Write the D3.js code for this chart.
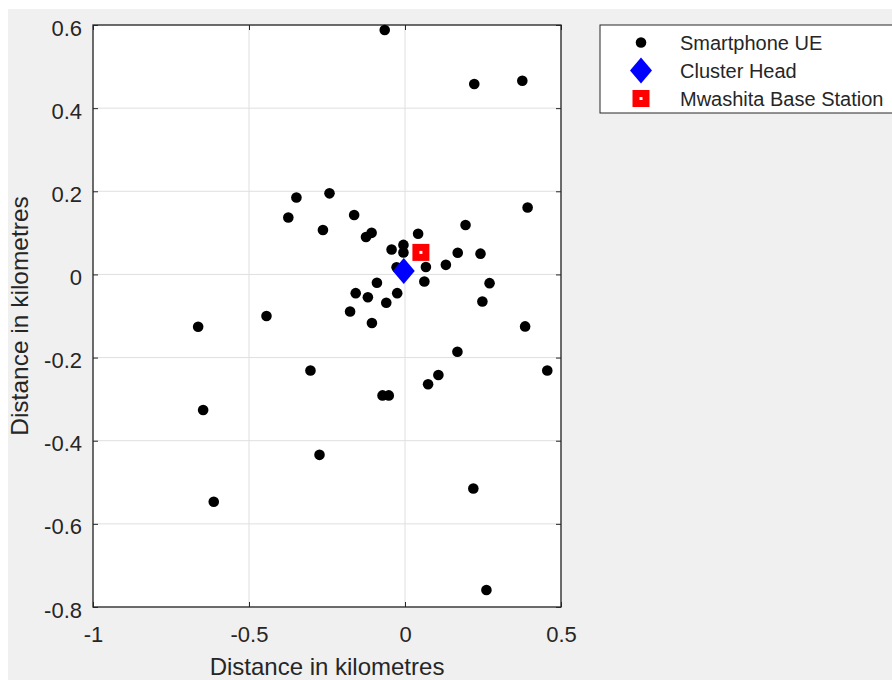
<!DOCTYPE html>
<html>
<head>
<meta charset="utf-8">
<script src="https://cdn.jsdelivr.net/npm/d3@7"></script>
<style>
  body { margin: 0; background: #fff; }
  text { font-family: "Liberation Sans", Arial, sans-serif; fill: #262626; }
</style>
</head>
<body>
<script>
// smartphone UE positions (km)
const ueX = [-0.065, 0.222, 0.376, -0.348, -0.242, -0.374, -0.163, -0.263, -0.107, -0.125,
  0.042, 0.194, 0.393, -0.043, -0.005, -0.005, 0.169, 0.242, 0.131, 0.067,
  -0.027, 0.062, 0.271, -0.090, -0.158, -0.119, -0.025, -0.060, 0.248, -0.444,
  -0.176, -0.106, 0.385, 0.168, -0.663, -0.303, 0.456, 0.107, 0.074, -0.072,
  -0.052, -0.647, -0.274, 0.219, -0.613, 0.261];
const ueY = [0.588, 0.458, 0.466, 0.185, 0.195, 0.137, 0.143, 0.107, 0.100, 0.090,
  0.098, 0.119, 0.161, 0.060, 0.071, 0.053, 0.052, 0.050, 0.023, 0.018,
  0.017, -0.017, -0.021, -0.020, -0.045, -0.055, -0.045, -0.068, -0.065, -0.100,
  -0.089, -0.117, -0.125, -0.186, -0.126, -0.231, -0.231, -0.242, -0.264, -0.291,
  -0.291, -0.326, -0.434, -0.515, -0.547, -0.759];
const headX = [-0.004], headY = [0.008];
const baseX = [0.051], baseY = [0.053];

const xTicks = [-1, -0.5, 0, 0.5];
const xTickLabels = ["-1", "-0.5", "0", "0.5"];
const yTicks = [-0.8, -0.6, -0.4, -0.2, 0, 0.2, 0.4, 0.6];
const yTickLabels = ["-0.8", "-0.6", "-0.4", "-0.2", "0", "0.2", "0.4", "0.6"];
const legendNames = ["Smartphone UE", "Cluster Head", "Mwashita Base Station"];
const axisTitle = "Distance in kilometres";

const W = 892, H = 680;
const pLeft = 93, pRight = 561, pTop = 25, pBottom = 607;

const svg = d3.select("body").append("svg").attr("width", W).attr("height", H);

// figure background
svg.append("rect").attr("x", 8).attr("y", 9).attr("width", W - 8).attr("height", H - 9).attr("fill", "#f0f0f0");

const x = d3.scaleLinear().domain([-1, 0.5]).range([pLeft, pRight]);
const y = d3.scaleLinear().domain([-0.8, 0.6]).range([pBottom, pTop]);

// axes area
svg.append("rect").attr("x", pLeft).attr("y", pTop).attr("width", pRight - pLeft).attr("height", pBottom - pTop).attr("fill", "#fff");

// grid
svg.append("g").selectAll("line").data(xTicks).join("line")
  .attr("x1", d => x(d)).attr("x2", d => x(d)).attr("y1", pTop).attr("y2", pBottom)
  .attr("stroke", "#dfdfdf").attr("stroke-width", 1);
svg.append("g").selectAll("line").data(yTicks).join("line")
  .attr("x1", pLeft).attr("x2", pRight).attr("y1", d => y(d)).attr("y2", d => y(d))
  .attr("stroke", "#dfdfdf").attr("stroke-width", 1);

// axes with inward ticks, box on
let styleAxis = (g) => {
  g.select(".domain").remove();
  g.selectAll(".tick line").attr("stroke", "#262626");
  g.selectAll(".tick text").attr("font-size", 22).attr("fill", "#262626")
    .style("font-family", "'Liberation Sans', Arial, sans-serif");
};
svg.append("g").attr("transform", `translate(0,${pBottom})`)
  .call(d3.axisBottom(x).tickValues(xTicks).tickFormat((d, i) => xTickLabels[i]).tickSizeInner(-5))
  .call(styleAxis)
  .selectAll(".tick text").attr("dy", 0).attr("y", 35);
svg.append("g").attr("transform", `translate(0,${pTop})`)
  .call(d3.axisTop(x).tickValues(xTicks).tickFormat("").tickSizeInner(-5)).call(styleAxis);
svg.append("g").attr("transform", `translate(${pLeft},0)`)
  .call(d3.axisLeft(y).tickValues(yTicks).tickFormat((d, i) => yTickLabels[i]).tickSizeInner(-5))
  .call(styleAxis)
  .selectAll(".tick text").attr("dy", 10).attr("x", -11);
svg.append("g").attr("transform", `translate(${pRight},0)`)
  .call(d3.axisRight(y).tickValues(yTicks).tickFormat("").tickSizeInner(-5)).call(styleAxis);

svg.append("rect").attr("x", pLeft).attr("y", pTop).attr("width", pRight - pLeft).attr("height", pBottom - pTop)
  .attr("fill", "none").attr("stroke", "#262626").attr("stroke-width", 1.3);

// axis titles
svg.append("text").attr("x", (pLeft + pRight) / 2).attr("y", 675).attr("text-anchor", "middle")
  .attr("font-size", 24).text(axisTitle);
svg.append("text").attr("transform", `translate(28,${(pTop + pBottom) / 2}) rotate(-90)`)
  .attr("text-anchor", "middle").attr("font-size", 24.5).text(axisTitle);

// markers
let diamondPath = (hw, hh) => {
  const p = d3.path();
  p.moveTo(0, -hh); p.lineTo(hw, 0); p.lineTo(0, hh); p.lineTo(-hw, 0); p.closePath();
  return p.toString();
};
let drawDot = (g, cx, cy) => g.append("circle").attr("cx", cx).attr("cy", cy).attr("r", 5.3).attr("fill", "#000");
let drawHead = (g, cx, cy) => g.append("path").attr("d", diamondPath(11, 13))
  .attr("transform", `translate(${cx},${cy})`).attr("fill", "#0000ff");
let drawBase = (g, cx, cy) => g.append("rect").attr("x", cx - 5).attr("y", cy - 5).attr("width", 10).attr("height", 10)
  .attr("fill", "#fff").attr("stroke", "#ff0000").attr("stroke-width", 7);

const plot = svg.append("g");
ueX.forEach((d, i) => drawDot(plot, x(d), y(ueY[i])));
headX.forEach((d, i) => drawHead(plot, x(d), y(headY[i])));
baseX.forEach((d, i) => drawBase(plot, x(d), y(baseY[i])));

// legend
const lg = svg.append("g");
lg.append("rect").attr("x", 600).attr("y", 25).attr("width", 320).attr("height", 88)
  .attr("fill", "#fff").attr("stroke", "#262626").attr("stroke-width", 1);
const rowY = [42.5, 70.5, 98.5];
drawDot(lg, 641, rowY[0]);
drawHead(lg, 641, rowY[1]);
drawBase(lg, 641, rowY[2]);
legendNames.forEach((n, i) => {
  lg.append("text").attr("x", 680).attr("y", rowY[i] + 7).attr("font-size", 20).text(n);
});
</script>
</body>
</html>
